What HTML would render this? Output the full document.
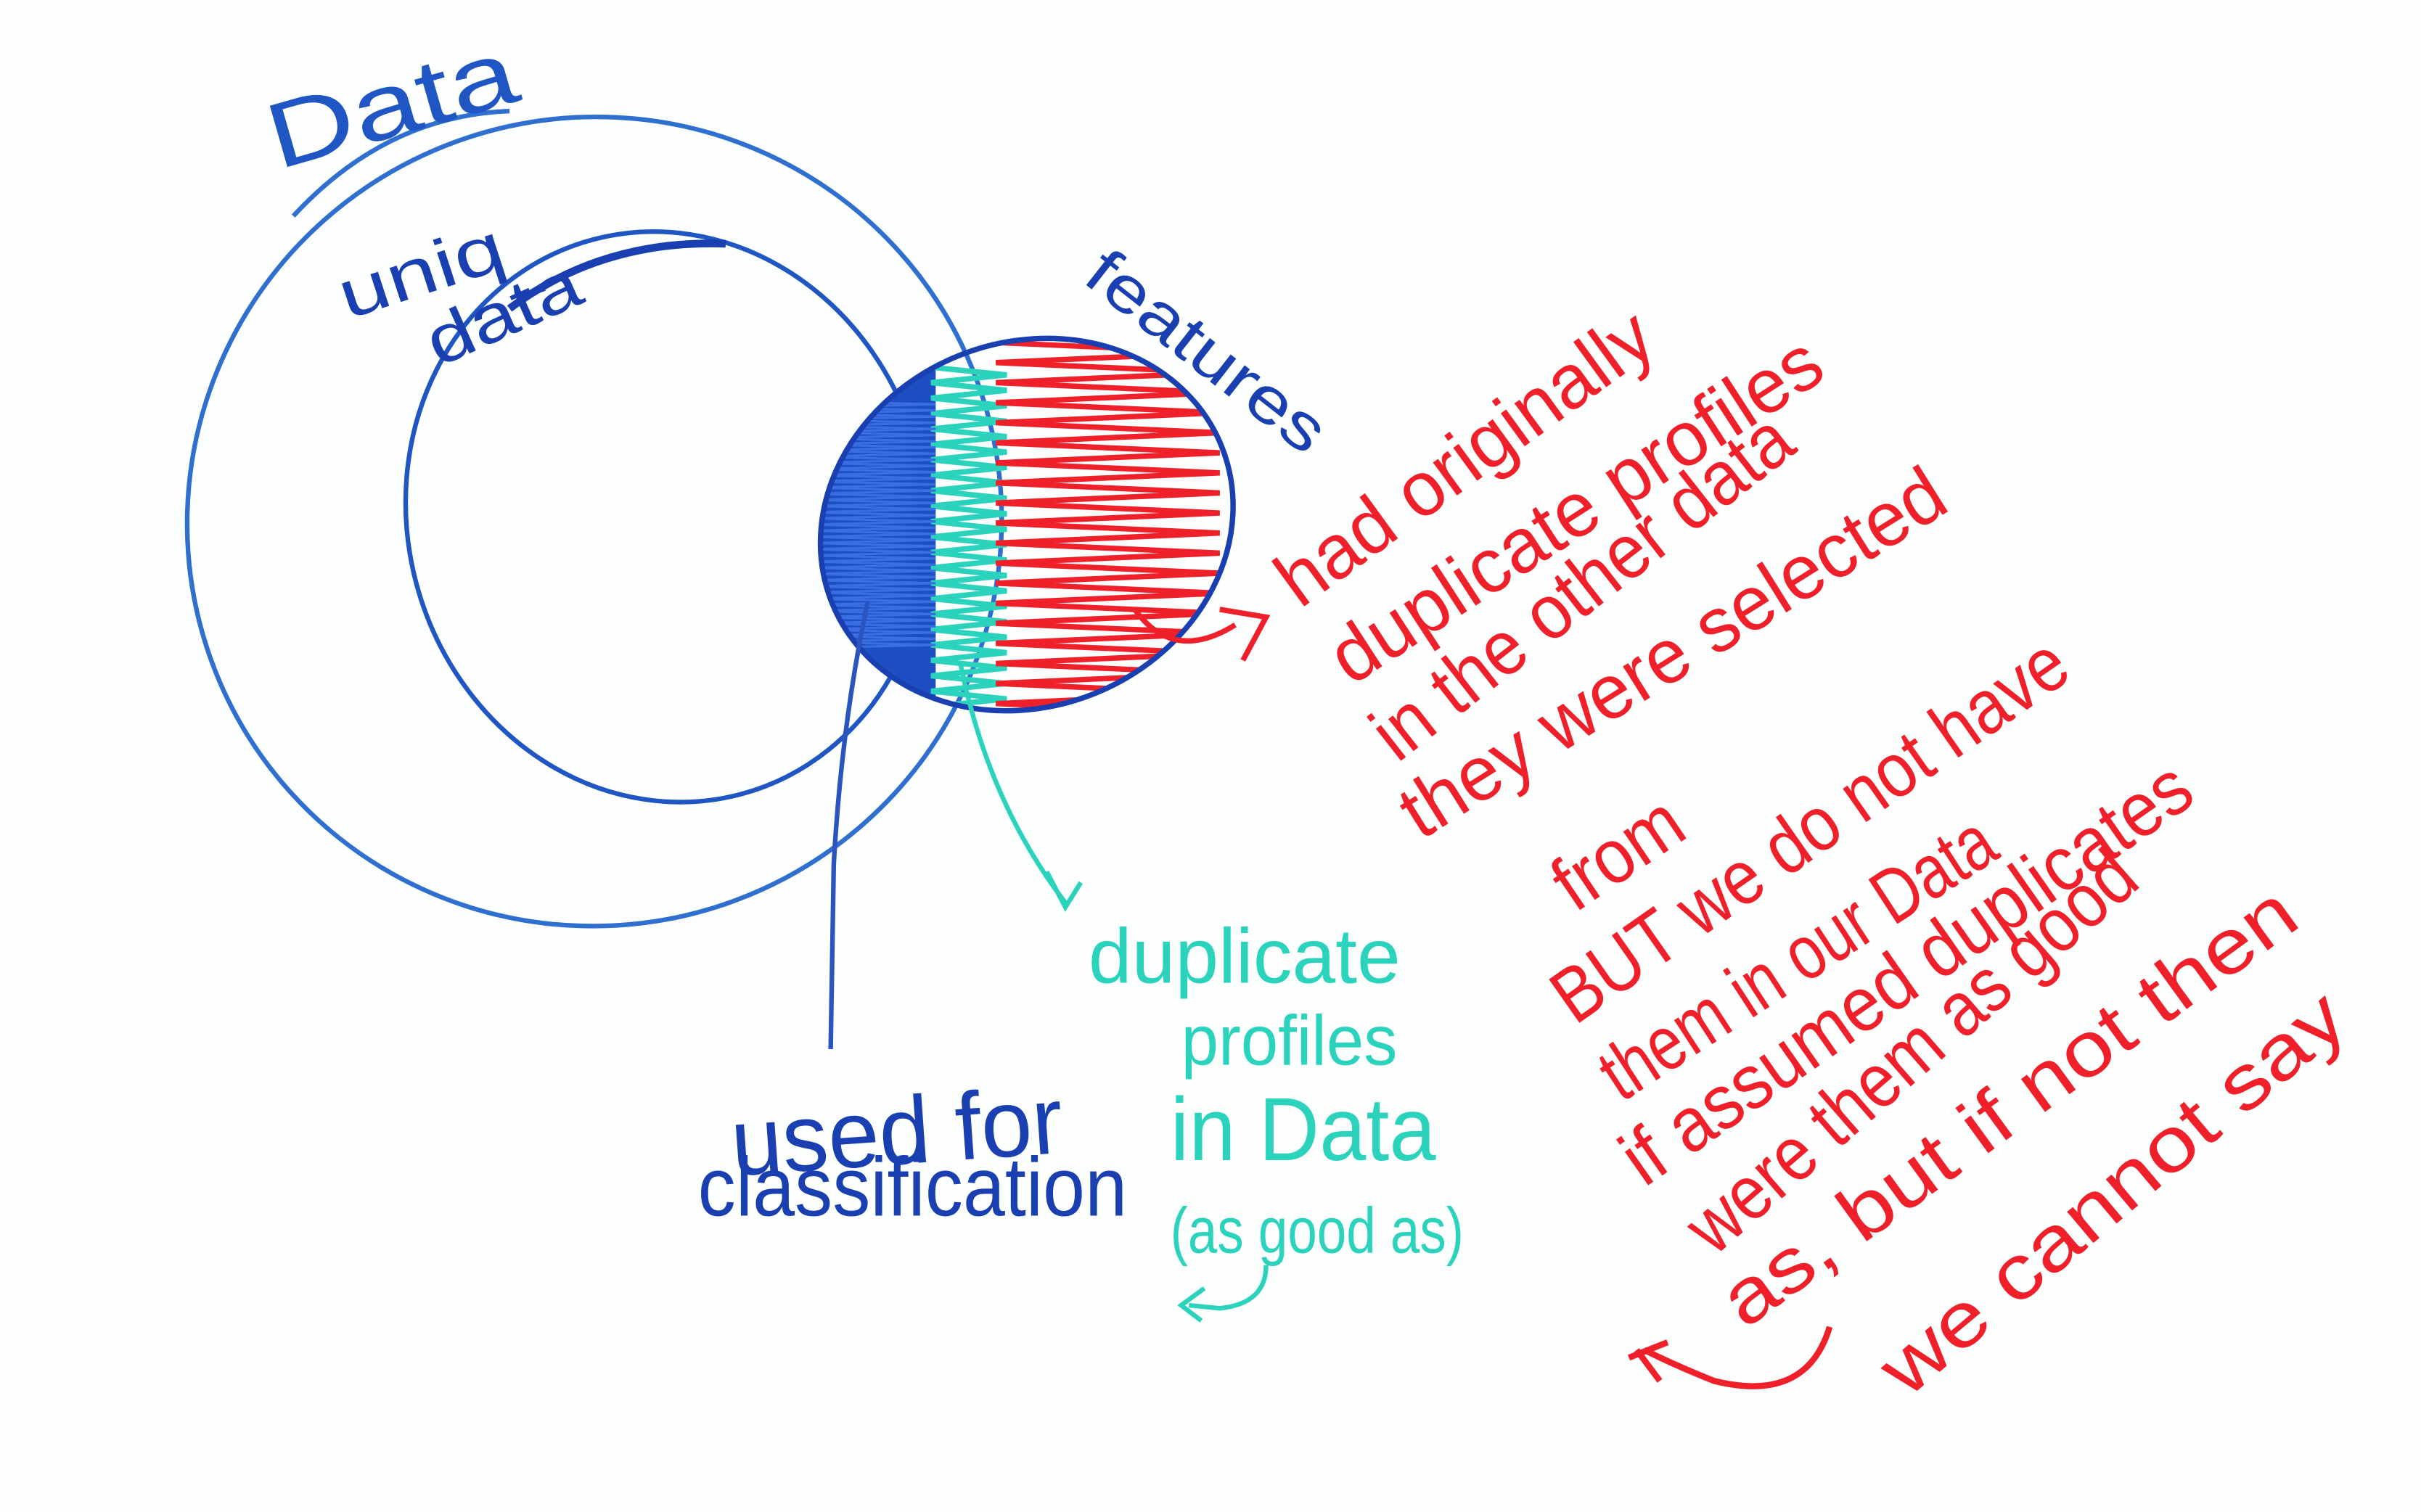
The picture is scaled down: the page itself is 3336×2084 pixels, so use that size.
<!DOCTYPE html>
<html><head><meta charset="utf-8"><style>
html,body{margin:0;padding:0;background:#fff;}
svg{display:block;}
text{font-family:"Liberation Sans",sans-serif;}
</style></head><body>
<svg width="3336" height="2084" viewBox="0 0 1568 980" preserveAspectRatio="none" xmlns="http://www.w3.org/2000/svg">
<rect x="0" y="0" width="1568" height="980" fill="#fdfefe"/>
<defs>
<clipPath id="featClip"><ellipse cx="665" cy="340" rx="136" ry="118" transform="rotate(-22 665 340)"/></clipPath>
</defs>
<ellipse cx="385" cy="338" rx="264" ry="262" transform="rotate(-20 385 338)" fill="none" stroke="#2f6fd0" stroke-width="3"/>
<ellipse cx="432" cy="335" rx="168" ry="186" transform="rotate(-15 432 335)" fill="none" stroke="#1f56c4" stroke-width="3"/>
<path d="M330 200 Q390 155 470 158" fill="none" stroke="#1a3fb0" stroke-width="5"/>
<path d="M190 140 Q250 75 330 72" fill="none" stroke="#2f6fd0" stroke-width="3"/>
<g clip-path="url(#featClip)">
<rect x="520" y="220" width="86" height="250" fill="#1d4fc2"/>
<g id="cyanH" stroke="#2bd3bd" stroke-width="3.5" fill="none"></g>
<g id="redH" stroke="#f0202a" stroke-width="3.5" fill="none"></g>
<g id="blueH" stroke="#3a6ee0" stroke-width="1.5" fill="none"></g>
</g>
<ellipse cx="665" cy="340" rx="136" ry="118" transform="rotate(-22 665 340)" fill="none" stroke="#1a3fb0" stroke-width="3.5"/>
<path d="M562 390 Q545 470 540 560 L538 680" fill="none" stroke="#2a55c0" stroke-width="3"/>
<path d="M622 430 Q640 520 690 585 M678 565 L690 588 L700 572" fill="none" stroke="#2bd3bd" stroke-width="3"/>
<path d="M735 395 Q760 430 800 405 M790 395 L820 400 L805 428" fill="none" stroke="#f0202a" stroke-width="3.5"/>
<path d="M820 820 Q820 845 790 848 L770 846 M780 835 L765 846 L778 856" fill="none" stroke="#2bd3bd" stroke-width="3"/>
<path d="M1185 860 Q1170 910 1110 895 Q1085 885 1065 875 M1055 880 L1080 870 M1060 875 L1075 895" fill="none" stroke="#f0202a" stroke-width="4"/>
<text x="180" y="110" font-size="60" fill="#1f56c4" transform="rotate(-16 180 110)" textLength="165" lengthAdjust="spacingAndGlyphs">Data</text>
<text x="225" y="207" font-size="44" fill="#1a3fb0" transform="rotate(-18 225 207)" textLength="110" lengthAdjust="spacingAndGlyphs">uniq</text>
<text x="284" y="238" font-size="44" fill="#1a3fb0" transform="rotate(-24 284 238)" textLength="105" lengthAdjust="spacingAndGlyphs">data</text>
<text x="700" y="182" font-size="42" fill="#1a3fb0" transform="rotate(38 700 182)" textLength="185" lengthAdjust="spacingAndGlyphs">features</text>
<text x="475" y="762" font-size="62" fill="#1a3fb0" transform="rotate(-4 475 762)" textLength="215" lengthAdjust="spacingAndGlyphs">used for</text>
<text x="452" y="788" font-size="54" fill="#1a3fb0" textLength="278" lengthAdjust="spacingAndGlyphs">classification</text>
<g fill="#2bd3bd">
<text x="705" y="637" font-size="50" textLength="202" lengthAdjust="spacingAndGlyphs">duplicate</text>
<text x="765" y="690" font-size="46" textLength="140" lengthAdjust="spacingAndGlyphs">profiles</text>
<text x="758" y="752" font-size="58" textLength="172" lengthAdjust="spacingAndGlyphs">in Data</text>
<text x="758" y="812" font-size="42" textLength="190" lengthAdjust="spacingAndGlyphs">(as good as)</text>
</g>
<g fill="#f0202a" font-size="50">
<text x="842" y="395" transform="rotate(-36 842 395)" textLength="288" lengthAdjust="spacingAndGlyphs">had originally</text>
<text x="875" y="445" transform="rotate(-33 875 445)" textLength="369" lengthAdjust="spacingAndGlyphs">duplicate profiles</text>
<text x="905" y="495" transform="rotate(-38 905 495)" textLength="330" lengthAdjust="spacingAndGlyphs">in the other data</text>
<text x="920" y="545" transform="rotate(-32 920 545)" textLength="406" lengthAdjust="spacingAndGlyphs">they were selected</text>
<text x="1020" y="592" transform="rotate(-34 1020 592)" textLength="90" lengthAdjust="spacingAndGlyphs">from</text>
<text x="1020" y="665" transform="rotate(-35 1020 665)" textLength="395" lengthAdjust="spacingAndGlyphs">BUT we do not have</text>
<text x="1050" y="715" transform="rotate(-33 1050 715)" textLength="294" lengthAdjust="spacingAndGlyphs">them in our Data</text>
<text x="1065" y="770" transform="rotate(-35 1065 770)" textLength="438" lengthAdjust="spacingAndGlyphs">if assumed duplicates</text>
<text x="1110" y="815" transform="rotate(-41 1110 815)" textLength="368" lengthAdjust="spacingAndGlyphs">were them as good</text>
<text x="1130" y="862" transform="rotate(-36 1130 862)" textLength="447" lengthAdjust="spacingAndGlyphs">as, but if not then</text>
<text x="1235" y="907" transform="rotate(-40 1235 907)" textLength="376" lengthAdjust="spacingAndGlyphs">we cannot say</text>
</g>
</svg>
<script>
function zig(gid, x0, x1, y0, y1, step){
  var g=document.getElementById(gid);
  var d='M'+x0+' '+y0;
  for(var y=y0;y<y1;y+=step){
    d+=' L'+x1+' '+(y+step/2)+' L'+x0+' '+(y+step);
  }
  var p=document.createElementNS('http://www.w3.org/2000/svg','path');
  p.setAttribute('d',d);
  
  
  g.appendChild(p);
}
zig('redH',645,790,222,470,13);
zig('cyanH',603,652,238,460,10);
zig('blueH',525,606,260,420,4);
</script>
</body></html>
